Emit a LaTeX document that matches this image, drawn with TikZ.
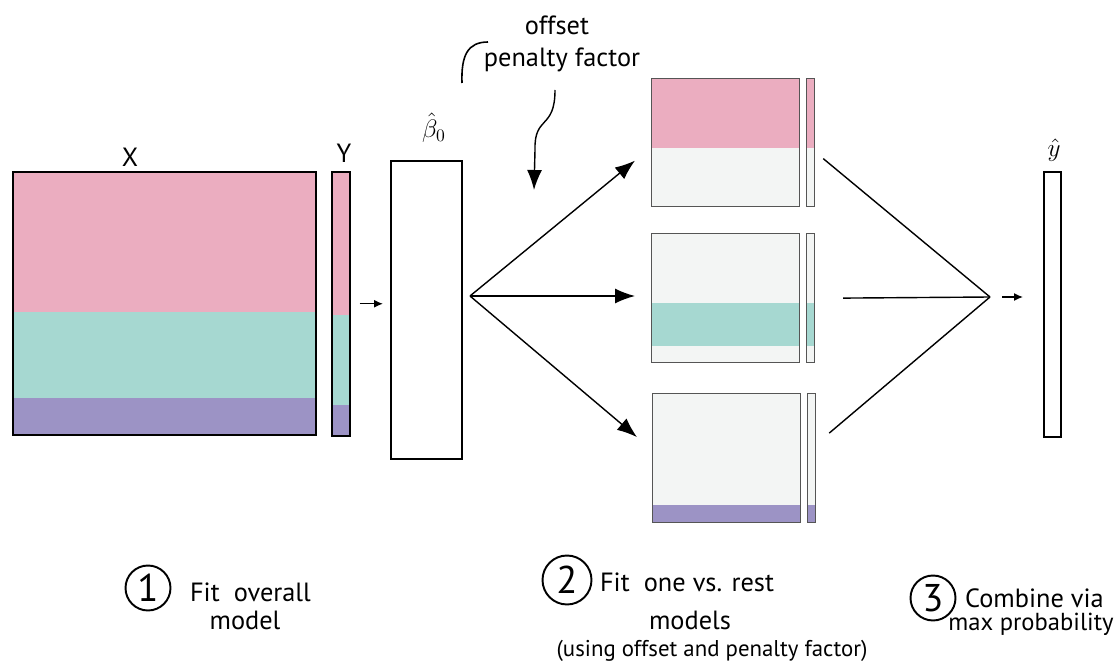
\documentclass[tikz,border=0pt]{standalone}
\usepackage{fontspec}
\setmainfont{PT Sans}
\usepackage{amsmath}
\usetikzlibrary{arrows.meta}
\definecolor{pinkband}{HTML}{EBADC0}
\definecolor{tealband}{HTML}{A6D8D1}
\definecolor{purpleband}{HTML}{9C93C5}
\definecolor{blankband}{HTML}{F3F5F4}
\definecolor{edgegrey}{HTML}{555555}
\begin{document}
\begin{tikzpicture}[x=0.02cm,y=-0.02cm,
	mat/.style={draw, line width=0.9pt, inner sep=0pt, anchor=north west},
	sub/.style={draw=edgegrey, line width=0.7pt, inner sep=0pt, anchor=north west},
	lbl/.style={font=\fontsize{15}{17}\selectfont, inner sep=1pt},
	num/.style={draw, circle, line width=1.1pt, minimum size=0.9cm, inner sep=0pt, font=\fontsize{22}{22}\selectfont},
	big/.style={-{Latex[length=4mm,width=3mm]}, line width=0.8pt},
	small/.style={-{Latex[length=1.8mm,width=1.6mm]}, line width=0.8pt}]
	\useasboundingbox (0,0) rectangle (1119,672);

	% step 1: data
	\fill[pinkband] (12,171) rectangle (315,312);
	\fill[tealband] (12,312) rectangle (315,398);
	\fill[purpleband] (12,398) rectangle (315,434);
	\fill[pinkband] (331,171) rectangle (349,315);
	\fill[tealband] (331,315) rectangle (349,405);
	\fill[purpleband] (331,405) rectangle (349,435);
	\node[mat, minimum width=6.06cm, minimum height=5.26cm] (X) at (12,171) {};
	\node[mat, minimum width=0.36cm, minimum height=5.28cm] (Y) at (331,171) {};
	\node[lbl] (xlab) at (130,157) {X};
	\node[lbl] (ylab) at (344,153) {Y};
	\node[mat, minimum width=1.42cm, minimum height=5.96cm] (beta) at (390,160) {};
	\node[font=\Large, inner sep=0pt] (blab) at (434,128) {$\hat{\beta}_0$};
	\draw[small] ([xshift=0.18cm]Y.east) -- ([xshift=-0.14cm]Y.east -| beta.west);

	% step 2: one vs. rest
	\fill[blankband] (651,78) rectangle (799,206);
	\fill[pinkband] (651,78) rectangle (799,148);
	\fill[blankband] (806,78) rectangle (814,206);
	\fill[pinkband] (806,78) rectangle (814,148);
	\fill[blankband] (651,233) rectangle (799,362);
	\fill[tealband] (651,303) rectangle (799,346);
	\fill[blankband] (806,233) rectangle (814,362);
	\fill[tealband] (806,303) rectangle (814,346);
	\fill[blankband] (652,393) rectangle (800,522);
	\fill[purpleband] (652,505) rectangle (800,522);
	\fill[blankband] (807,393) rectangle (815,522);
	\fill[purpleband] (807,505) rectangle (815,522);
	\node[sub, minimum width=2.96cm, minimum height=2.56cm] (m1) at (651,78) {};
	\node[sub, minimum width=0.16cm, minimum height=2.56cm] (m1y) at (806,78) {};
	\node[sub, minimum width=2.96cm, minimum height=2.58cm] (m2) at (651,233) {};
	\node[sub, minimum width=0.16cm, minimum height=2.58cm] (m2y) at (806,233) {};
	\node[sub, minimum width=2.96cm, minimum height=2.58cm] (m3) at (652,393) {};
	\node[sub, minimum width=0.16cm, minimum height=2.58cm] (m3y) at (807,393) {};

	\coordinate (fan) at (470,296);
	\draw[big] (fan) -- ([xshift=-0.32cm,yshift=-0.36cm]m1.west);
	\draw[big] (fan) -- ([xshift=-0.32cm]fan -| m2.west);
	\draw[big] (fan) -- ([xshift=-0.3cm,yshift=0.42cm]m3.west);

	% offset / penalty factor
	\node[lbl] (offs) at (557,25) {offset};
	\node[lbl] (pen) at (562,60) {penalty factor};
	\draw[line width=0.9pt] (462,83) .. controls (461,55) and (468,42) .. (488,42);
	\coordinate (tail) at (555,90);
	\draw[big] (tail) .. controls (555,130) and (534,115) .. (535,150) -- (534,190);

	% step 3: combine
	\coordinate (join) at (990,297);
	\node[mat, minimum width=0.34cm, minimum height=5.3cm] (yhat) at (1043,171) {};
	\node[font=\Large] (yhlab) at (1054,150) {$\hat{y}$};
	\draw[line width=0.8pt] ([xshift=0.16cm,yshift=-0.32cm]m1y.east) -- (join);
	\draw[line width=0.8pt] ([xshift=0.56cm]m2y.east) -- (join);
	\draw[line width=0.8pt] ([xshift=0.26cm,yshift=0.5cm]m3y.east) -- (join);
	\draw[small] ([xshift=0.24cm]join) -- ([xshift=-0.4cm]join -| yhat.west);

	% captions
	\node[num] (c1) at (148,588) {1};
	\node[lbl, anchor=west] (t1a) at (188,592) {Fit\ \ overall};
	\node[lbl] (t1b) at (245,620) {model};
	\node[num, minimum size=0.98cm] (c2) at (567,580) {2};
	\node[lbl, anchor=west] (t2a) at (598,582) {Fit\ \ one vs. rest};
	\node[lbl] (t2b) at (690,620) {models};
	\node[lbl, font=\fontsize{13}{15}\selectfont] (t2c) at (712,651) {(using offset and penalty factor)};
	\node[num] (c3) at (933,598) {3};
	\node[lbl, anchor=west] (t3a) at (963,598) {Combine via};
	\node[lbl, font=\fontsize{14}{16}\selectfont] (t3b) at (1031,624) {max probability};
\end{tikzpicture}
\end{document}
